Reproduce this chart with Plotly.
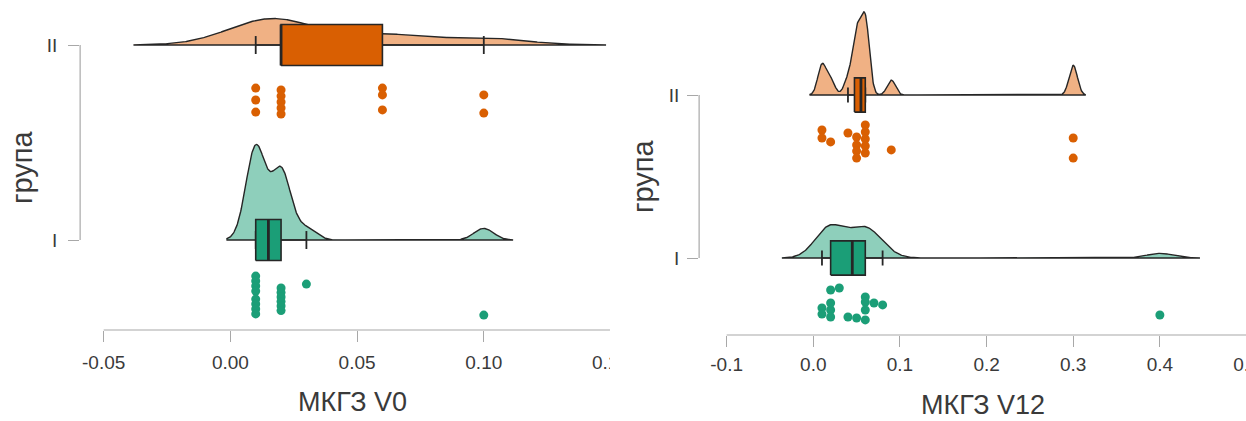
import numpy as np
import plotly.graph_objects as go

# ---- data: МКГЗ at visit V0 and V12, by group (I / II) ----
v0_group_I = [0.01, 0.01, 0.01, 0.01, 0.01, 0.01, 0.01, 0.01, 0.02, 0.02, 0.02, 0.02, 0.02, 0.02,
              0.03, 0.10]
v0_group_II = [0.01, 0.01, 0.01, 0.02, 0.02, 0.02, 0.02, 0.02, 0.06, 0.06, 0.06, 0.10, 0.10]
v12_group_I = [0.01, 0.01, 0.02, 0.02, 0.02, 0.02, 0.03, 0.04, 0.05, 0.06, 0.06, 0.06, 0.06,
               0.07, 0.08, 0.40]
v12_group_II = [0.01, 0.01, 0.02, 0.04, 0.05, 0.05, 0.05, 0.05, 0.06, 0.06, 0.06, 0.06, 0.06,
                0.09, 0.30, 0.30]

# vertical jitter of the raw points (drop below the group baseline, category units)
v0_jitter_I = [0.185, 0.210, 0.236, 0.262, 0.303, 0.328, 0.354, 0.379,
               0.246, 0.269, 0.292, 0.315, 0.338, 0.362, 0.226, 0.385]
v0_jitter_II = [0.221, 0.282, 0.344, 0.231, 0.262, 0.292, 0.323, 0.354, 0.221, 0.256, 0.333,
                0.256, 0.349]
v12_jitter_I = [0.307, 0.344, 0.196, 0.319, 0.362, 0.276, 0.184, 0.362, 0.368, 0.380,
                0.239, 0.270, 0.319, 0.276, 0.288, 0.350]
v12_jitter_II = [0.215, 0.264, 0.288, 0.233, 0.258, 0.307, 0.344, 0.387, 0.184, 0.227, 0.270,
                 0.313, 0.356, 0.337, 0.264, 0.387]

group_labels = ["I", "II"]
v0_ticks = [-0.05, 0.00, 0.05, 0.10, 0.15]
v0_ticktext = ["-0.05", "0.00", "0.05", "0.10", "0.15"]
v12_ticks = [-0.1, 0.0, 0.1, 0.2, 0.3, 0.4, 0.5]
v12_ticktext = ["-0.1", "0.0", "0.1", "0.2", "0.3", "0.4", "0.5"]

# ---- styling ----
FONT = "Liberation Sans, Arial, sans-serif"
TEXT = "#3a3a3a"
AXIS = "#a8a8a8"
OUTLINE = "#262626"
COL = {"I": "#1B9E77", "II": "#D95F02"}
FILL = {"I": "#8ECFBB", "II": "#F0B184"}
BOX_HALF = 0.105
CAP_HALF = 0.046


def kde(values):
    """Gaussian KDE with Silverman's (nrd0) bandwidth, evaluated out to 3 bandwidths."""
    x = np.asarray(values, dtype=float)
    n = x.size
    q1, q3 = np.percentile(x, [25, 75])
    bw = 0.9 * min(x.std(ddof=1), (q3 - q1) / 1.34) * n ** -0.2
    grid = np.linspace(x.min() - 3 * bw, x.max() + 3 * bw, 600)
    z = (grid[:, None] - x[None, :]) / bw
    dens = np.exp(-0.5 * z ** 2).sum(axis=1) / (n * bw * np.sqrt(2 * np.pi))
    return grid, dens


def box_stats(values):
    x = np.asarray(values, dtype=float)
    q1, med, q3 = np.percentile(x, [25, 50, 75])
    iqr = q3 - q1
    lo = x[x >= q1 - 1.5 * iqr].min()
    hi = x[x <= q3 + 1.5 * iqr].max()
    return q1, med, q3, lo, hi


fig = go.Figure()


def raincloud(groups, jitters, xa, ya, max_height):
    curves = {g: kde(v) for g, v in groups.items()}
    peak = max(d.max() for _, d in curves.values())
    scale = max_height / peak
    for g, values in groups.items():
        base = group_labels.index(g) + 1
        grid, dens = curves[g]
        # half-violin (cloud)
        fig.add_trace(go.Scatter(
            x=np.concatenate([grid, grid[::-1]]),
            y=np.concatenate([base + dens * scale, np.full(grid.size, base)]),
            mode="lines", fill="toself", fillcolor=FILL[g],
            line=dict(color=OUTLINE, width=1.4), xaxis=xa, yaxis=ya,
            hoverinfo="skip", showlegend=False))
        q1, med, q3, lo, hi = box_stats(values)
        # whiskers with end caps
        for a, b in [(lo, q1), (q3, hi)]:
            fig.add_trace(go.Scatter(x=[a, b], y=[base, base], mode="lines",
                                     line=dict(color=OUTLINE, width=1.4),
                                     xaxis=xa, yaxis=ya, hoverinfo="skip", showlegend=False))
        for w in (lo, hi):
            fig.add_trace(go.Scatter(x=[w, w], y=[base - CAP_HALF, base + CAP_HALF], mode="lines",
                                     line=dict(color=OUTLINE, width=1.8),
                                     xaxis=xa, yaxis=ya, hoverinfo="skip", showlegend=False))
        # box
        fig.add_trace(go.Scatter(
            x=[q1, q3, q3, q1, q1],
            y=[base - BOX_HALF, base - BOX_HALF, base + BOX_HALF, base + BOX_HALF, base - BOX_HALF],
            mode="lines", fill="toself", fillcolor=COL[g],
            line=dict(color=OUTLINE, width=1.6), xaxis=xa, yaxis=ya,
            hoverinfo="skip", showlegend=False))
        fig.add_trace(go.Scatter(x=[med, med], y=[base - BOX_HALF, base + BOX_HALF], mode="lines",
                                 line=dict(color=OUTLINE, width=2.8),
                                 xaxis=xa, yaxis=ya, hoverinfo="skip", showlegend=False))
        # rain (raw points)
        fig.add_trace(go.Scatter(
            x=values, y=[base - j for j in jitters[g]], mode="markers",
            marker=dict(color=COL[g], size=9, line=dict(width=0)),
            xaxis=xa, yaxis=ya, hoverinfo="skip", showlegend=False))


raincloud({"I": v0_group_I, "II": v0_group_II},
          {"I": v0_jitter_I, "II": v0_jitter_II}, "x", "y", 0.49)
raincloud({"I": v12_group_I, "II": v12_group_II},
          {"I": v12_jitter_I, "II": v12_jitter_II}, "x2", "y2", 0.51)

# positions below are given on a 1246 x 421 grid; the page is laid out 1261 px wide
PX_W, H = 1246, 421
W = 1261
tickfont = dict(family=FONT, size=19, color=TEXT)
common_x = dict(showgrid=False, zeroline=False, showline=False, ticks="outside", ticklen=11,
                tickwidth=1, tickcolor=AXIS, tickfont=tickfont, ticklabeloverflow="allow")
common_y = dict(showgrid=False, zeroline=False, showline=False, ticks="outside", ticklen=11,
                tickwidth=1, tickcolor=AXIS, tickfont=tickfont,
                tickvals=[1, 2], ticktext=group_labels)

fig.update_layout(
    width=W, height=H, autosize=False,
    margin=dict(l=0, r=0, t=0, b=0),
    paper_bgcolor="white", plot_bgcolor="white",
    xaxis=dict(domain=[80 / PX_W, 615 / PX_W], range=[-0.05929, 0.15217], ticklabelstandoff=4,
               tickvals=v0_ticks, ticktext=v0_ticktext, anchor="y", **common_x),
    yaxis=dict(domain=[1 - 330 / H, 1], range=[0.5385, 2.2308], anchor="x",
               ticklabelstandoff=7, **common_y),
    xaxis2=dict(domain=[698 / PX_W, 1], range=[-0.13179, 0.50173], ticklabelstandoff=1,
                tickvals=v12_ticks, ticktext=v12_ticktext, anchor="y2", **common_x),
    yaxis2=dict(domain=[1 - 335 / H, 1], range=[0.5276, 2.5828], anchor="x2",
                ticklabelstandoff=4, **common_y),
)

# axis lines span only the tick range
for xa, ya, xt in [("x", "y", v0_ticks), ("x2", "y2", v12_ticks)]:
    fig.add_shape(type="line", xref=xa, yref=ya + " domain", x0=xt[0], x1=xt[-1], y0=0, y1=0,
                  line=dict(color=AXIS, width=1.2))
    fig.add_shape(type="line", xref=xa + " domain", yref=ya, x0=0, x1=0, y0=1, y1=2,
                  line=dict(color=AXIS, width=1.2))

# left panel is trimmed at its right edge
fig.add_shape(type="rect", xref="paper", yref="paper", x0=609 / PX_W, x1=660 / PX_W, y0=0, y1=0.3,
              fillcolor="white", line=dict(width=0), layer="above")

xtitle = dict(family=FONT, size=27, color=TEXT)
ytitle = dict(family=FONT, size=29, color=TEXT)
fig.add_annotation(text="МКГЗ V0", xref="paper", yref="paper", x=352 / PX_W, y=1 - 402 / H,
                   showarrow=False, font=xtitle, xanchor="center", yanchor="middle")
fig.add_annotation(text="МКГЗ V12", xref="paper", yref="paper", x=981 / PX_W, y=1 - 405 / H,
                   showarrow=False, font=xtitle, xanchor="center", yanchor="middle")
fig.add_annotation(text="група", xref="paper", yref="paper", x=22 / PX_W, y=1 - 167 / H,
                   showarrow=False, font=ytitle, textangle=-90, xanchor="center", yanchor="middle")
fig.add_annotation(text="група", xref="paper", yref="paper", x=642 / PX_W, y=1 - 176 / H,
                   showarrow=False, font=ytitle, textangle=-90, xanchor="center", yanchor="middle")

fig.write_html("out.html")
